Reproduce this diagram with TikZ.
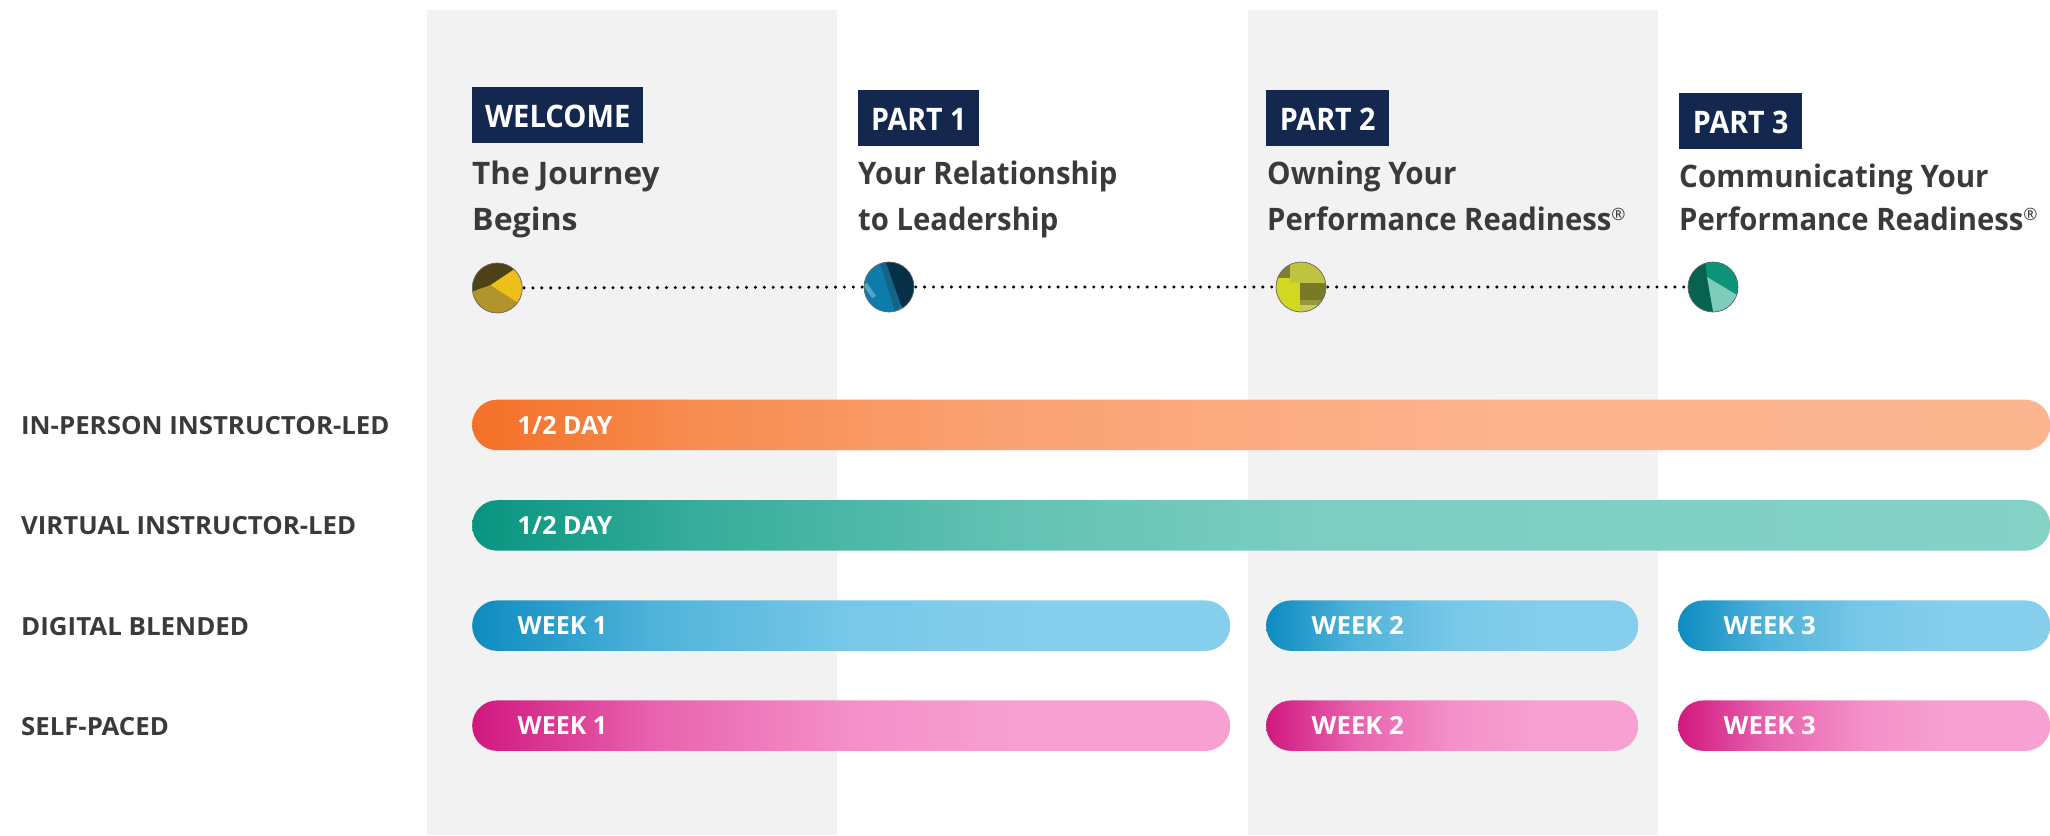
\documentclass[tikz,border=0pt]{standalone}
\usepackage{fontspec}
\usepackage{graphicx}
\setmainfont{Open Sans}
\definecolor{ink}{HTML}{3A3A3A}
\definecolor{navy}{HTML}{13274F}
\definecolor{band}{HTML}{F2F2F2}
\definecolor{oA}{HTML}{F47027}\definecolor{oB}{HTML}{F78C50}\definecolor{oC}{HTML}{FAA273}\definecolor{oD}{HTML}{FCB48F}\definecolor{oE}{HTML}{FBB690}
\definecolor{gA}{HTML}{07957F}\definecolor{gB}{HTML}{36AC9A}\definecolor{gC}{HTML}{62C2B3}\definecolor{gD}{HTML}{7CCEC1}\definecolor{gE}{HTML}{85D2C7}
\definecolor{bA}{HTML}{0D8BC0}\definecolor{bB}{HTML}{50B3DA}\definecolor{bC}{HTML}{78C8E8}\definecolor{bD}{HTML}{85CEEC}
\definecolor{pA}{HTML}{D0187F}\definecolor{pB}{HTML}{E863AE}\definecolor{pC}{HTML}{F490C8}\definecolor{pD}{HTML}{F7A1D2}
\pgfdeclarehorizontalshading{orangebar}{100bp}{color(0bp)=(oA); color(25bp)=(oA); color(32bp)=(oB); color(42bp)=(oC); color(58bp)=(oD); color(75bp)=(oE); color(100bp)=(oE)}
\pgfdeclarehorizontalshading{greenbar}{100bp}{color(0bp)=(gA); color(25bp)=(gA); color(32bp)=(gB); color(42bp)=(gC); color(52bp)=(gD); color(75bp)=(gE); color(100bp)=(gE)}
\pgfdeclarehorizontalshading{bluebar}{100bp}{color(0bp)=(bA); color(25bp)=(bA); color(37bp)=(bB); color(50bp)=(bC); color(62bp)=(bD); color(75bp)=(bD); color(100bp)=(bD)}
\pgfdeclarehorizontalshading{pinkbar}{100bp}{color(0bp)=(pA); color(25bp)=(pA); color(37bp)=(pB); color(50bp)=(pC); color(62bp)=(pD); color(75bp)=(pD); color(100bp)=(pD)}
\newcommand{\regmark}{\raisebox{10pt}{\fontsize{17}{17}\mdseries\selectfont ®}}
\newcommand{\hsq}[2]{\scalebox{#1}[1]{#2}}
\newcommand{\barlabel}[3]{\makebox[#1pt][l]{\hspace*{45.5pt}\hsq{#2}{#3}}}
\tikzset{
  x=1pt,y=-1pt,
  bandbox/.style={fill=band,draw=none,rectangle,inner sep=0,anchor=north west},
  headbox/.style={fill=navy,text=white,rectangle,anchor=north west,inner xsep=0,inner ysep=0,minimum height=56pt,text height=40pt,text depth=16pt,font=\fontsize{31}{31}\bfseries\selectfont},
  title/.style={anchor=base west,inner sep=0,text=ink,font=\fontsize{31}{31}\bfseries\selectfont},
  rowlabel/.style={anchor=base west,inner sep=0,text=ink,font=\fontsize{25}{25}\bfseries\selectfont},
  barbox/.style={rectangle,rounded corners=25pt,anchor=north west,inner sep=0,minimum height=50.5pt,text height=34.5pt,text depth=16pt,text=white,font=\fontsize{25}{25}\bfseries\selectfont},
  dotline/.style={line width=3.4pt,line cap=round,dash pattern=on 0pt off 8.9pt,black},
  disc/.style={circle,minimum size=50pt,inner sep=0},
  discedge/.style={draw=black!60!white,line width=0.7pt}
}
\begin{document}
\begin{tikzpicture}
\useasboundingbox (0,0) rectangle (2050,835);
\fill[white] (0,0) rectangle (2050,835);
% bands
\node[bandbox,minimum width=410pt,minimum height=825pt] (band1) at (427,10) {};
\node[bandbox,minimum width=410pt,minimum height=825pt] (band3) at (1248,10) {};
% headers
\node[headbox,minimum width=171pt] (h0) at (472,87) {\hsq{0.94}{WELCOME}};
\node[headbox,minimum width=121pt] (h1) at (858,90) {\hsq{0.92}{PART 1}};
\node[headbox,minimum width=123pt] (h2) at (1266,90) {\hsq{0.924}{PART 2}};
\node[headbox,minimum width=123pt] (h3) at (1679,93) {\hsq{0.924}{PART 3}};
% titles
\node[title] (t0a) at (472,184) {\hsq{1.016}{The Journey}};
\node[title] (t0b) at (472,230) {\hsq{1.035}{Begins}};
\node[title] (t1a) at (858,184) {\hsq{0.947}{Your Relationship}};
\node[title] (t1b) at (858,230) {\hsq{0.944}{to Leadership}};
\node[title] (t2a) at (1267,184) {\hsq{0.954}{Owning Your}};
\node[title] (t2b) at (1267,230) {\hsq{0.943}{Performance Readiness}\regmark};
\node[title] (t3a) at (1679,187) {\hsq{0.952}{Communicating Your}};
\node[title] (t3b) at (1679,230) {\hsq{0.943}{Performance Readiness}\regmark};
% discs
\node[disc] (c0) at (497.3,288) {};
\node[disc] (c1) at (889,287) {};
\node[disc] (c2) at (1301,287) {};
\node[disc] (c3) at (1713,287) {};
\draw[dotline] (c0.center) -- (c1.center);
\draw[dotline] (c1.center) -- (c2.center);
\draw[dotline] (c2.center) -- (c3.center);
% disc 0
\begin{scope}[shift={(c0.center)}]
  \clip (0,0) circle (25pt);
  \fill[fill={rgb,255:red,178;green,148;blue,44}] (-30,-30) rectangle (30,30);
  \fill[fill={rgb,255:red,238;green,190;blue,26}] (-7,-3) -- (17,-19) -- (30,-19) -- (30,20) -- (18,13) -- cycle;
  \fill[fill={rgb,255:red,78;green,66;blue,24}] (-30,6) -- (-25,3.5) -- (-7,-3) -- (17,-19) -- (30,-30) -- (-30,-30) -- cycle;
\end{scope}
\draw[discedge] (c0) circle (25pt);
% disc 1
\begin{scope}[shift={(c1.center)}]
  \clip (0,0) circle (25pt);
  \fill[fill={rgb,255:red,14;green,124;blue,170}] (-30,-30) rectangle (30,30);
  \fill[fill={rgb,255:red,20;green,100;blue,136}] (-11,-30) -- (-5,-30) -- (12,18) -- (6,24) -- cycle;
  \fill[fill={rgb,255:red,6;green,48;blue,72}] (-5,-30) -- (12,18) -- (20,30) -- (30,30) -- (30,-30) -- cycle;
  \fill[fill={rgb,255:red,84;green,164;blue,198}] (-26,-2) -- (-22,-4) -- (-13,9) -- (-17,11) -- cycle;
\end{scope}
\draw[discedge] (c1) circle (25pt);
% disc 2
\begin{scope}[shift={(c2.center)}]
  \clip (0,0) circle (25pt);
  \fill[fill={rgb,255:red,190;green,196;blue,64}] (-30,-30) rectangle (30,30);
  \fill[fill={rgb,255:red,124;green,128;blue,48}] (-30,-30) rectangle (-11,-9);
  \fill[fill={rgb,255:red,210;green,216;blue,32}] (-30,-9) -- (-11,-9) -- (-11,-5) -- (-1,-4) -- (-1,30) -- (-30,30) -- cycle;
  \fill[fill={rgb,255:red,120;green,122;blue,42}] (-1,-4) rectangle (30,13);
  \fill[fill={rgb,255:red,150;green,154;blue,60}] (-1,13) rectangle (30,18);
  \fill[fill={rgb,255:red,200;green,204;blue,84}] (-1,18) rectangle (30,30);
\end{scope}
\draw[discedge] (c2) circle (25pt);
% disc 3
\begin{scope}[shift={(c3.center)}]
  \clip (0,0) circle (25pt);
  \fill[fill={rgb,255:red,8;green,98;blue,80}] (-30,-30) rectangle (30,30);
  \fill[fill={rgb,255:red,11;green,148;blue,122}] (-8,-30) -- (-6,-10) -- (24,8) -- (30,8) -- (30,-30) -- cycle;
  \fill[fill={rgb,255:red,126;green,205;blue,187}] (-6,-10) -- (24,8) -- (16,24) -- (1,30) -- cycle;
\end{scope}
\draw[discedge] (c3) circle (25pt);
% row labels
\node[rowlabel] (r0) at (21,434) {\hsq{1.033}{IN-PERSON INSTRUCTOR-LED}};
\node[rowlabel] (r1) at (21,534.5) {\hsq{1.03}{VIRTUAL INSTRUCTOR-LED}};
\node[rowlabel] (r2) at (21,635.7) {\hsq{1.036}{DIGITAL BLENDED}};
\node[rowlabel] (r3) at (21,735.7) {\hsq{1.03}{SELF-PACED}};
% bars
\node[barbox,shade,shading=orangebar,minimum width=1578pt] (b0) at (472,399.5) {\barlabel{1578}{1}{1/2 DAY}};
\node[barbox,shade,shading=greenbar,minimum width=1578pt] (b1) at (472,500) {\barlabel{1578}{1}{1/2 DAY}};
\node[barbox,shade,shading=bluebar,minimum width=758pt] (b2a) at (472,600.2) {\barlabel{758}{1}{WEEK 1}};
\node[barbox,shade,shading=bluebar,minimum width=372pt] (b2b) at (1266,600.2) {\barlabel{372}{1.03}{WEEK 2}};
\node[barbox,shade,shading=bluebar,minimum width=372pt] (b2c) at (1678,600.2) {\barlabel{372}{1.03}{WEEK 3}};
\node[barbox,shade,shading=pinkbar,minimum width=758pt] (b3a) at (472,700.2) {\barlabel{758}{1}{WEEK 1}};
\node[barbox,shade,shading=pinkbar,minimum width=372pt] (b3b) at (1266,700.2) {\barlabel{372}{1.03}{WEEK 2}};
\node[barbox,shade,shading=pinkbar,minimum width=372pt] (b3c) at (1678,700.2) {\barlabel{372}{1.03}{WEEK 3}};
\end{tikzpicture}
\end{document}
